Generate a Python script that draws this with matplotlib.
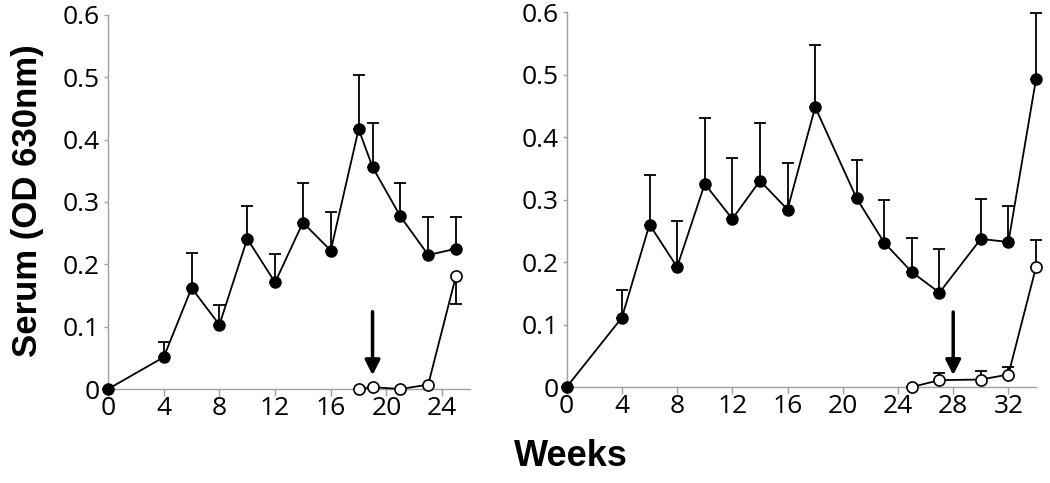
import matplotlib
matplotlib.use('Agg')
import matplotlib.pyplot as plt
from matplotlib.ticker import FixedLocator, FuncFormatter

# left panel
left_weeks = [0, 4, 6, 8, 10, 12, 14, 16, 18, 19, 21, 23, 25]
left_filled = [0.0, 0.051, 0.162, 0.103, 0.241, 0.171, 0.267, 0.222, 0.417, 0.356, 0.277, 0.215, 0.225]
left_filled_err = [0.0, 0.025, 0.056, 0.032, 0.053, 0.046, 0.063, 0.062, 0.087, 0.070, 0.053, 0.061, 0.051]
left_open_weeks = [18, 19, 21, 23, 25]
left_open = [0.0, 0.003, 0.0, 0.007, 0.182]
left_open_err_low = [0.0, 0.0, 0.0, 0.0, 0.046]
left_arrow = (19, 0.124, 0.022)

# right panel
right_weeks = [0, 4, 6, 8, 10, 12, 14, 16, 18, 21, 23, 25, 27, 30, 32, 34]
right_filled = [0.0, 0.111, 0.260, 0.192, 0.325, 0.269, 0.330, 0.284, 0.448, 0.302, 0.231, 0.184, 0.151, 0.237, 0.232, 0.493]
right_filled_err = [0.0, 0.045, 0.080, 0.073, 0.105, 0.097, 0.093, 0.075, 0.100, 0.061, 0.069, 0.055, 0.070, 0.064, 0.057, 0.106]
right_open_weeks = [25, 27, 30, 32, 34]
right_open = [0.0, 0.011, 0.012, 0.020, 0.192]
right_open_err_up = [0.0, 0.012, 0.013, 0.012, 0.044]
right_arrow = (28, 0.120, 0.019)

yticks = [0, 0.1, 0.2, 0.3, 0.4, 0.5, 0.6]

plt.rcParams['font.family'] = ['Open Sans', 'DejaVu Sans']
label_font = ['Liberation Sans', 'DejaVu Sans']

fig = plt.figure(figsize=(10.5, 4.83), dpi=100)
ax1 = fig.add_axes([0.1029, 0.1946, 0.3447, 0.7744])
ax2 = fig.add_axes([0.5397, 0.1987, 0.4470, 0.7764])


def style(ax, xmax, xticks):
    ax.set_xlim(0, xmax)
    ax.set_ylim(0, 0.6)
    for s in ['top', 'right']:
        ax.spines[s].set_visible(False)
    for s in ['left', 'bottom']:
        ax.spines[s].set_color('#a0a0a0')
        ax.spines[s].set_linewidth(1.0)
    ax.xaxis.set_major_locator(FixedLocator(xticks))
    ax.yaxis.set_major_locator(FixedLocator(yticks))
    ax.yaxis.set_major_formatter(FuncFormatter(lambda v, p: '0' if v == 0 else '%.1f' % v))
    ax.tick_params(axis='x', direction='out', length=5, width=1, color='#a0a0a0', pad=0,
                   labelsize=19)
    ax.tick_params(axis='y', direction='out', length=3, width=1, color='#a0a0a0', pad=3,
                   labelsize=19)


def err_pair(err, upper):
    zeros = [0.0] * len(err)
    return [zeros, err] if upper else [err, zeros]


def draw(ax, wk, val, err, owk, oval, oerr, arrow):
    ax.errorbar(wk, val, yerr=err_pair(err, True), fmt='none', ecolor='black',
                elinewidth=1.3, capsize=4, capthick=1.3, zorder=2, clip_on=False)
    ax.plot(wk, val, '-o', color='black', lw=1.3, markersize=8, markerfacecolor='black',
            markeredgecolor='black', zorder=3, clip_on=False)
    ax.errorbar(owk, oval, yerr=oerr, fmt='none', ecolor='black',
                elinewidth=1.3, capsize=4, capthick=1.3, zorder=2, clip_on=False)
    ax.plot(owk, oval, '-o', color='black', lw=1.3, markersize=8, markerfacecolor='white',
            markeredgecolor='black', markeredgewidth=1.2, zorder=4, clip_on=False)
    ax.annotate('', xy=(arrow[0], arrow[2]), xytext=(arrow[0], arrow[1]),
                arrowprops=dict(arrowstyle='-|>,head_length=0.9,head_width=0.45',
                                color='black', lw=2.5, shrinkA=0, shrinkB=0))


style(ax1, 26, [0, 4, 8, 12, 16, 20, 24])
style(ax2, 34, [0, 4, 8, 12, 16, 20, 24, 28, 32])

draw(ax1, left_weeks, left_filled, left_filled_err, left_open_weeks, left_open,
     err_pair(left_open_err_low, False), left_arrow)
draw(ax2, right_weeks, right_filled, right_filled_err, right_open_weeks, right_open,
     err_pair(right_open_err_up, True), right_arrow)

fig.text(0.026, 0.585, 'Serum (OD 630nm)', rotation=90, ha='center', va='center',
         fontsize=25, fontweight='bold', family=label_font)
fig.text(0.544, 0.054, 'Weeks', ha='center', va='center',
         fontsize=26, fontweight='bold', family=label_font)

fig.savefig('out.png', dpi=100)
